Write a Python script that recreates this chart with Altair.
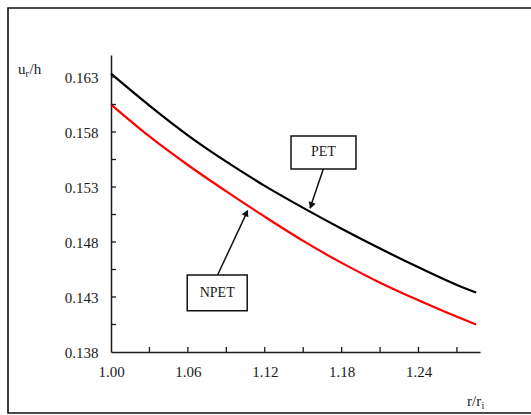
import altair as alt
import pandas as pd

# Dimensionless radius r/r_i
r_vals = [1.00, 1.03, 1.06, 1.09, 1.12, 1.15, 1.18, 1.21, 1.24, 1.27, 1.285]
# Radial displacement u_r/h
pet_vals = [0.1633, 0.1604, 0.1577, 0.1553, 0.1531, 0.1511, 0.1492, 0.1474, 0.1457, 0.1441, 0.1434]
npet_vals = [0.1605, 0.1576, 0.1550, 0.1526, 0.1503, 0.1481, 0.1461, 0.1443, 0.1427, 0.1412, 0.1405]

x_label_vals = [1.00, 1.06, 1.12, 1.18, 1.24]
x_tick_vals = [1.03, 1.06, 1.09, 1.12, 1.15, 1.18, 1.21, 1.24, 1.27]
y_label_vals = [0.138, 0.143, 0.148, 0.153, 0.158, 0.163]
y_tick_vals = [0.1405, 0.143, 0.1455, 0.148, 0.1505, 0.153, 0.1555, 0.158, 0.1605, 0.163]

# Callout boxes, their labels and arrows
box_names = ["PET", "NPET"]
box_x = [1.1405, 1.0595]
box_x2 = [1.1912, 1.1063]
box_y = [0.15764, 0.14500]
box_y2 = [0.15464, 0.14175]
label_x = [1.1658, 1.0829]
label_y = [0.15614, 0.14338]
arrow_x = [1.1657, 1.0832]
arrow_y = [0.15464, 0.14500]
tip_x = [1.1553, 1.1067]
tip_y = [0.15106, 0.15085]
head_x = [1.1565, 1.1053]
head_y = [0.15140, 0.15056]
head_angle = [199, 25]

W, H = 369, 297
X_DOMAIN = [1.0, 1.288]
Y_DOMAIN = [0.138, 0.165]
FONT = "Liberation Serif"
INK = "#1a1a1a"

curves = pd.DataFrame(
    {"r": r_vals * 2,
     "u": pet_vals + npet_vals,
     "series": ["PET"] * len(r_vals) + ["NPET"] * len(r_vals)}
)
boxes = pd.DataFrame({
    "name": box_names, "x": box_x, "x2": box_x2, "y": box_y, "y2": box_y2,
    "lx": label_x, "ly": label_y, "ax": arrow_x, "ay": arrow_y,
    "tx": tip_x, "ty": tip_y, "hx": head_x, "hy": head_y, "ang": head_angle,
})

xs = alt.Scale(domain=X_DOMAIN, nice=False, zero=False)
ys = alt.Scale(domain=Y_DOMAIN, nice=False, zero=False)

lines = alt.Chart(curves).mark_line(strokeWidth=2.2, interpolate="monotone").encode(
    x=alt.X("r:Q", scale=xs, axis=alt.Axis(
        values=x_label_vals, format=".2f", title=None, grid=False, labelFlush=False,
        tickSize=0, labelPadding=12, domainColor=INK, domainWidth=1.5,
        labelFont=FONT, labelFontSize=15, labelColor=INK)),
    y=alt.Y("u:Q", scale=ys, axis=alt.Axis(
        values=y_label_vals, format=".3f", title=None, grid=False, labelFlush=False,
        tickSize=0, labelPadding=13, domainColor=INK, domainWidth=1.5,
        labelFont=FONT, labelFontSize=15, labelColor=INK)),
    color=alt.Color("series:N", scale=alt.Scale(domain=["PET", "NPET"], range=["#000000", "#ff0000"]), legend=None),
    detail="series:N",
)

# Inward-pointing axis ticks
xticks = alt.Chart(pd.DataFrame({"t": x_tick_vals})).mark_rule(color=INK, strokeWidth=1.3).encode(
    x=alt.X("t:Q", scale=xs), y=alt.value(H), y2=alt.value(H - 5))
yticks = alt.Chart(pd.DataFrame({"t": y_tick_vals})).mark_rule(color=INK, strokeWidth=1.3).encode(
    y=alt.Y("t:Q", scale=ys), x=alt.value(0), x2=alt.value(5))

base = alt.Chart(boxes)
arrows = base.mark_rule(color="#111111", strokeWidth=1.5).encode(
    x=alt.X("ax:Q", scale=xs), y=alt.Y("ay:Q", scale=ys),
    x2="tx:Q", y2="ty:Q")
heads = base.mark_point(shape="triangle", filled=True, size=55, color="#111111", opacity=1).encode(
    x=alt.X("hx:Q", scale=xs), y=alt.Y("hy:Q", scale=ys), angle=alt.Angle("ang:Q", scale=None))
rects = base.mark_rect(fill="white", stroke="#111111", strokeWidth=1.5).encode(
    x=alt.X("x:Q", scale=xs), x2="x2:Q", y=alt.Y("y:Q", scale=ys), y2="y2:Q")
labels = base.mark_text(font=FONT, fontSize=14, color=INK, baseline="middle").encode(
    x=alt.X("lx:Q", scale=xs), y=alt.Y("ly:Q", scale=ys), text="name:N")

one = pd.DataFrame({"k": [0]})
frame = alt.Chart(one).mark_rect(fill="transparent", stroke="#111111", strokeWidth=1.6).encode(
    x=alt.value(-103), x2=alt.value(422), y=alt.value(-47), y2=alt.value(358))


def txt(s, x, y, size=15, **kw):
    return alt.Chart(one).mark_text(text=s, font=FONT, fontSize=size, color=INK, align="left", **kw).encode(
        x=alt.value(x), y=alt.value(y))


# Axis titles u_r/h and r/r_i, with subscripts
titles = [
    txt("u", -93, 19, baseline="alphabetic"),
    txt("r", -85.5, 22, size=10, baseline="alphabetic"),
    txt("/h", -81.5, 19, baseline="alphabetic"),
    txt("r/r", 356, 351, baseline="alphabetic"),
    txt("i", 370.5, 354, size=10, baseline="alphabetic"),
]

chart = alt.layer(
    frame, lines, xticks, yticks, arrows, heads, rects, labels, *titles
).properties(
    width=W, height=H,
    padding={"left": 111, "top": 55, "right": 51, "bottom": 63},
    autosize=alt.AutoSizeParams(type="none"),
    background="white",
).configure_view(stroke=None)

chart.save("out.html", embed_options={"renderer": "svg", "actions": False})
